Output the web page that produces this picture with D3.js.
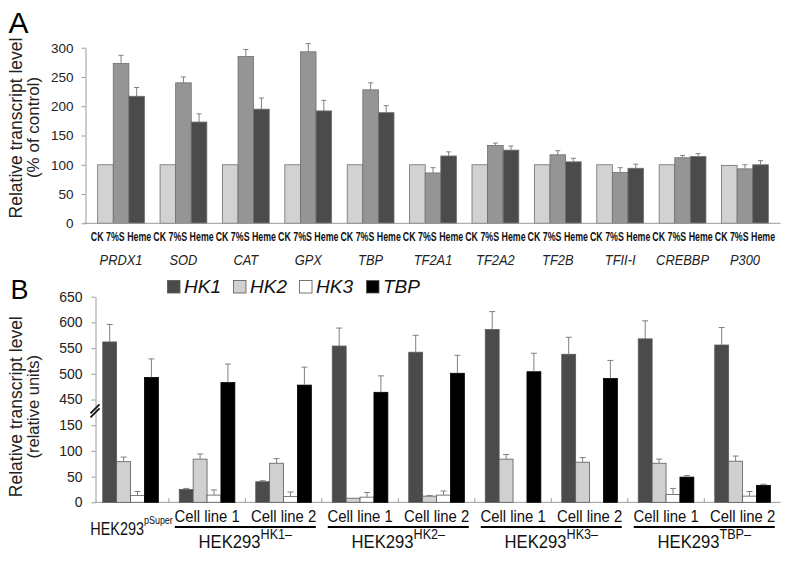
<!DOCTYPE html>
<html>
<head>
<meta charset="utf-8">
<script src="https://cdn.jsdelivr.net/npm/d3@7"></script>
<style>
  html, body { margin: 0; padding: 0; background: #fff; }
  svg { display: block; font-family: "Liberation Sans", Arial, sans-serif; }
</style>
</head>
<body>
<svg id="chart" width="791" height="561"></svg>
<script>
// ---------- Panel A data ----------
const genesA = ["PRDX1", "SOD", "CAT", "GPX", "TBP", "TF2A1", "TF2A2", "TF2B", "TFII-I", "CREBBP", "P300"];
const treatmentsA = ["CK", "7%S", "Heme"];
const ckValues   = [100, 100, 100, 100, 100, 100, 100, 100, 100, 100, 99];
const ckErr      = [0, 0, 0, 0, 0, 0, 0, 0, 0, 0, 0];
const s7Values   = [273, 240, 285, 293, 228, 86, 133, 117, 87, 112, 93];
const s7Err      = [14, 10, 12, 14, 12, 9, 4, 7, 8, 4, 7];
const hemeValues = [217, 173, 195, 192, 189, 115, 125, 105, 94, 114, 100];
const hemeErr    = [15, 14, 19, 18, 12, 7, 7, 6, 7, 5, 7];
const ticksA = [0, 50, 100, 150, 200, 250, 300];

// ---------- Panel B data ----------
const groupsB = ["pSuper", "HK1-CL1", "HK1-CL2", "HK2-CL1", "HK2-CL2", "HK3-CL1", "HK3-CL2", "TBP-CL1", "TBP-CL2"];
const cellLineLabels = ["", "Cell line 1", "Cell line 2", "Cell line 1", "Cell line 2", "Cell line 1", "Cell line 2", "Cell line 1", "Cell line 2"];
const seriesB = ["HK1", "HK2", "HK3", "TBP"];
const hk1Values = [562, 25, 40, 554, 542, 586, 538, 568, 556];
const hk1Err    = [34, 2, 2, 35, 33, 35, 33, 35, 34];
const hk2Values = [79, 84, 76, 8, 12, 84, 78, 76, 80];
const hk2Err    = [9, 10, 9, 0, 1, 9, 9, 8, 10];
const hk3Values = [13, 14, 11, 10, 14, 0, 0, 15, 12];
const hk3Err    = [8, 10, 9, 9, 8, 0, 0, 12, 9];
const tbpValues = [493, 483, 478, 464, 501, 504, 491, 49, 33];
const tbpErr    = [36, 36, 35, 32, 35, 36, 35, 3, 2];
const ticksB = [0, 50, 100, 150, 450, 500, 550, 600, 650];
const knockdownGroups = [
  { sup: "HK1\u2013", first: "HK1-CL1", second: "HK1-CL2" },
  { sup: "HK2\u2013", first: "HK2-CL1", second: "HK2-CL2" },
  { sup: "HK3\u2013", first: "HK3-CL1", second: "HK3-CL2" },
  { sup: "TBP\u2013", first: "TBP-CL1", second: "TBP-CL2" }
];

const colorsA = { "CK": "#d2d2d2", "7%S": "#959595", "Heme": "#4b4b4b" };
const colorsB = { "HK1": "#4b4b4b", "HK2": "#d0d0d0", "HK3": "#ffffff", "TBP": "#000000" };
const axisColor = "#9a9a9a";
const errColor = "#808080";

const svg = d3.select("#chart");

// =============== PANEL A ===============
const gA = svg.append("g");
const xA = d3.scaleBand().domain(genesA).range([85.5, 780.5]).paddingInner(0.25).paddingOuter(0.195);
const xSubA = d3.scaleBand().domain(treatmentsA).range([0, xA.bandwidth()]);
const yA = d3.scaleLinear().domain([0, 300]).range([223.3, 47.7]);

const rowsA = genesA.map((g, i) => ({
  gene: g,
  bars: [
    { t: "CK", v: ckValues[i], e: ckErr[i] },
    { t: "7%S", v: s7Values[i], e: s7Err[i] },
    { t: "Heme", v: hemeValues[i], e: hemeErr[i] }
  ]
}));

// y axis
const axA = gA.append("g").attr("transform", "translate(85.5,0)")
  .call(d3.axisLeft(yA).tickValues(ticksA).tickSize(4).tickSizeOuter(0).tickPadding(8));
axA.select(".domain").attr("stroke", axisColor);
axA.selectAll(".tick line").attr("stroke", axisColor);
axA.selectAll(".tick text").attr("font-size", 13.5).attr("fill", "#222").attr("font-family", "Liberation Sans, Arial, sans-serif");

// bars A
const grpA = gA.selectAll(".grpA").data(rowsA).enter().append("g")
  .attr("transform", d => `translate(${xA(d.gene)},0)`);
grpA.selectAll("rect").data(d => d.bars).enter().append("rect")
  .attr("x", d => xSubA(d.t))
  .attr("y", d => yA(d.v))
  .attr("width", xSubA.bandwidth())
  .attr("height", d => yA(0) - yA(d.v))
  .attr("fill", d => colorsA[d.t])
  .attr("stroke", "#6e6e6e")
  .attr("stroke-width", 0.8);
// error bars A
const ebA = grpA.selectAll(".eb").data(d => d.bars.filter(b => b.e > 0)).enter().append("g");
ebA.append("line")
  .attr("x1", d => xSubA(d.t) + xSubA.bandwidth() / 2).attr("x2", d => xSubA(d.t) + xSubA.bandwidth() / 2)
  .attr("y1", d => yA(d.v)).attr("y2", d => yA(d.v + d.e))
  .attr("stroke", errColor).attr("stroke-width", 1);
ebA.append("line")
  .attr("x1", d => xSubA(d.t) + xSubA.bandwidth() / 2 - 2.5).attr("x2", d => xSubA(d.t) + xSubA.bandwidth() / 2 + 2.5)
  .attr("y1", d => yA(d.v + d.e)).attr("y2", d => yA(d.v + d.e))
  .attr("stroke", errColor).attr("stroke-width", 1);

// x axis line A
gA.append("line").attr("x1", 84).attr("x2", 780.5).attr("y1", yA(0)).attr("y2", yA(0))
  .attr("stroke", axisColor).attr("stroke-width", 1);

// treatment labels (condensed) + gene names
grpA.append("text")
  .attr("transform", `translate(${xA.bandwidth() / 2},241) scale(0.68,1)`)
  .attr("text-anchor", "middle").attr("font-size", 13).attr("font-weight", "bold")
  .attr("fill", "#111")
  .text(treatmentsA.join(" "));
grpA.append("text")
  .attr("transform", `translate(${xA.bandwidth() / 2},264.5) scale(0.92,1)`)
  .attr("text-anchor", "middle").attr("font-size", 14).attr("font-style", "italic")
  .attr("fill", "#222")
  .text(d => d.gene);

// y label A
gA.append("text").attr("transform", "translate(22,128) rotate(-90)")
  .attr("text-anchor", "middle").attr("font-size", 17.5).attr("fill", "#222")
  .text("Relative transcript level");
gA.append("text").attr("transform", "translate(39,127.5) rotate(-90)")
  .attr("text-anchor", "middle").attr("font-size", 17).attr("fill", "#222")
  .text("(% of control)");
gA.append("text").attr("x", 8.5).attr("y", 32.5).attr("font-size", 30).attr("fill", "#000").text("A");

// =============== PANEL B ===============
const gB = svg.append("g");
const xB = d3.scaleBand().domain(groupsB).range([92.3, 780.8]).paddingInner(0.273).paddingOuter(0.1365);
const xSubB = d3.scaleBand().domain(seriesB).range([0, xB.bandwidth()]);
const yB = d3.scaleLinear().domain([0, 150, 450, 650]).range([502.3, 425.2, 399.5, 296.7]);
const axisXB = 95.5;

const rowsB = groupsB.map((g, i) => ({
  group: g,
  bars: [
    { s: "HK1", v: hk1Values[i], e: hk1Err[i] },
    { s: "HK2", v: hk2Values[i], e: hk2Err[i] },
    { s: "HK3", v: hk3Values[i], e: hk3Err[i] },
    { s: "TBP", v: tbpValues[i], e: tbpErr[i] }
  ]
}));

const axB = gB.append("g").attr("transform", `translate(${axisXB},0)`)
  .call(d3.axisLeft(yB).tickValues(ticksB).tickSize(4).tickSizeOuter(0).tickPadding(9));
axB.select(".domain").attr("stroke", axisColor);
axB.selectAll(".tick line").attr("stroke", axisColor);
axB.selectAll(".tick text").attr("font-size", 14).attr("fill", "#222").attr("font-family", "Liberation Sans, Arial, sans-serif");

// x axis line B with inner ticks at group boundaries
gB.append("line").attr("x1", axisXB).attr("x2", 780.8).attr("y1", yB(0)).attr("y2", yB(0))
  .attr("stroke", axisColor).attr("stroke-width", 1);
const gapB = xB.step() - xB.bandwidth();
gB.selectAll(".xtick").data(groupsB.slice(1)).enter().append("line")
  .attr("x1", d => xB(d) - gapB / 2).attr("x2", d => xB(d) - gapB / 2)
  .attr("y1", yB(0)).attr("y2", yB(0) - 4)
  .attr("stroke", axisColor).attr("stroke-width", 1);

// bars B
const grpB = gB.selectAll(".grpB").data(rowsB).enter().append("g")
  .attr("transform", d => `translate(${xB(d.group)},0)`);
grpB.selectAll("rect").data(d => d.bars.filter(b => b.v > 0)).enter().append("rect")
  .attr("x", d => xSubB(d.s))
  .attr("y", d => yB(d.v))
  .attr("width", xSubB.bandwidth())
  .attr("height", d => yB(0) - yB(d.v))
  .attr("fill", d => colorsB[d.s])
  .attr("stroke", d => d.s === "TBP" ? "#000" : "#5a5a5a")
  .attr("stroke-width", 0.8);
const ebB = grpB.selectAll(".eb").data(d => d.bars.filter(b => b.e > 0)).enter().append("g");
ebB.append("line")
  .attr("x1", d => xSubB(d.s) + xSubB.bandwidth() / 2).attr("x2", d => xSubB(d.s) + xSubB.bandwidth() / 2)
  .attr("y1", d => yB(d.v)).attr("y2", d => yB(d.v + d.e))
  .attr("stroke", errColor).attr("stroke-width", 1);
ebB.append("line")
  .attr("x1", d => xSubB(d.s) + xSubB.bandwidth() / 2 - 3).attr("x2", d => xSubB(d.s) + xSubB.bandwidth() / 2 + 3)
  .attr("y1", d => yB(d.v + d.e)).attr("y2", d => yB(d.v + d.e))
  .attr("stroke", errColor).attr("stroke-width", 1);

// axis break marks
const breakY = (yB(150) + yB(450)) / 2;
[0, 4].forEach(off => {
  gB.append("line")
    .attr("x1", axisXB - 5).attr("y1", breakY + 1 + off)
    .attr("x2", axisXB + 4).attr("y2", breakY - 8 + off)
    .attr("stroke", "#111").attr("stroke-width", 1.8);
});

// cell line labels
gB.selectAll(".cl").data(groupsB.map((g, i) => ({ g, label: cellLineLabels[i] })).filter(d => d.label))
  .enter().append("text")
  .attr("transform", d => `translate(${xB(d.g) + xB.bandwidth() / 2},521.5) scale(0.93,1)`)
  .attr("text-anchor", "middle").attr("font-size", 16).attr("fill", "#111")
  .text(d => d.label);

// HEK293 labels with superscripts
function hekLabel(cx, baseline, sup, mainSize, supSize, supDy, sx) {
  const t = gB.append("text")
    .attr("transform", `translate(${cx},${baseline}) scale(${sx},1)`)
    .attr("text-anchor", "middle").attr("fill", "#111");
  t.append("tspan").attr("font-size", mainSize).text("HEK293");
  t.append("tspan").attr("font-size", supSize).attr("dy", supDy).text(sup);
}
hekLabel(xB("pSuper") + xB.bandwidth() / 2 + 1, 535, "pSuper", 18.5, 11.5, -11, 0.78);

knockdownGroups.forEach(k => {
  const c1 = xB(k.first) + xB.bandwidth() / 2;
  const c2 = xB(k.second) + xB.bandwidth() / 2;
  const cx = (c1 + c2) / 2;
  gB.append("line").attr("x1", cx - 70.5).attr("x2", cx + 70.5).attr("y1", 527).attr("y2", 527)
    .attr("stroke", "#000").attr("stroke-width", 2);
  hekLabel(cx, 548.3, k.sup, 18.5, 14, -9, 0.9);
});

// legend
const legendX = [167, 233, 299, 366];
const leg = gB.selectAll(".leg").data(seriesB).enter().append("g")
  .attr("transform", (d, i) => `translate(${legendX[i]},280)`);
leg.append("rect").attr("x", 0.5).attr("y", 0.5).attr("width", 12.5).attr("height", 12.5)
  .attr("fill", d => colorsB[d]).attr("stroke", "#555").attr("stroke-width", 0.8);
leg.append("text").attr("x", 17).attr("y", 13.2).attr("font-size", 19).attr("font-style", "italic")
  .attr("fill", "#111").text(d => d);

// y label B
gB.append("text").attr("transform", "translate(22,406.7) rotate(-90)")
  .attr("text-anchor", "middle").attr("font-size", 17.5).attr("fill", "#222")
  .text("Relative transcript level");
gB.append("text").attr("transform", "translate(39,406.7) rotate(-90)")
  .attr("text-anchor", "middle").attr("font-size", 16.5).attr("fill", "#222")
  .text("(relative units)");
gB.append("text").attr("x", 10.5).attr("y", 298.5).attr("font-size", 27).attr("fill", "#000").text("B");
</script>
</body>
</html>
